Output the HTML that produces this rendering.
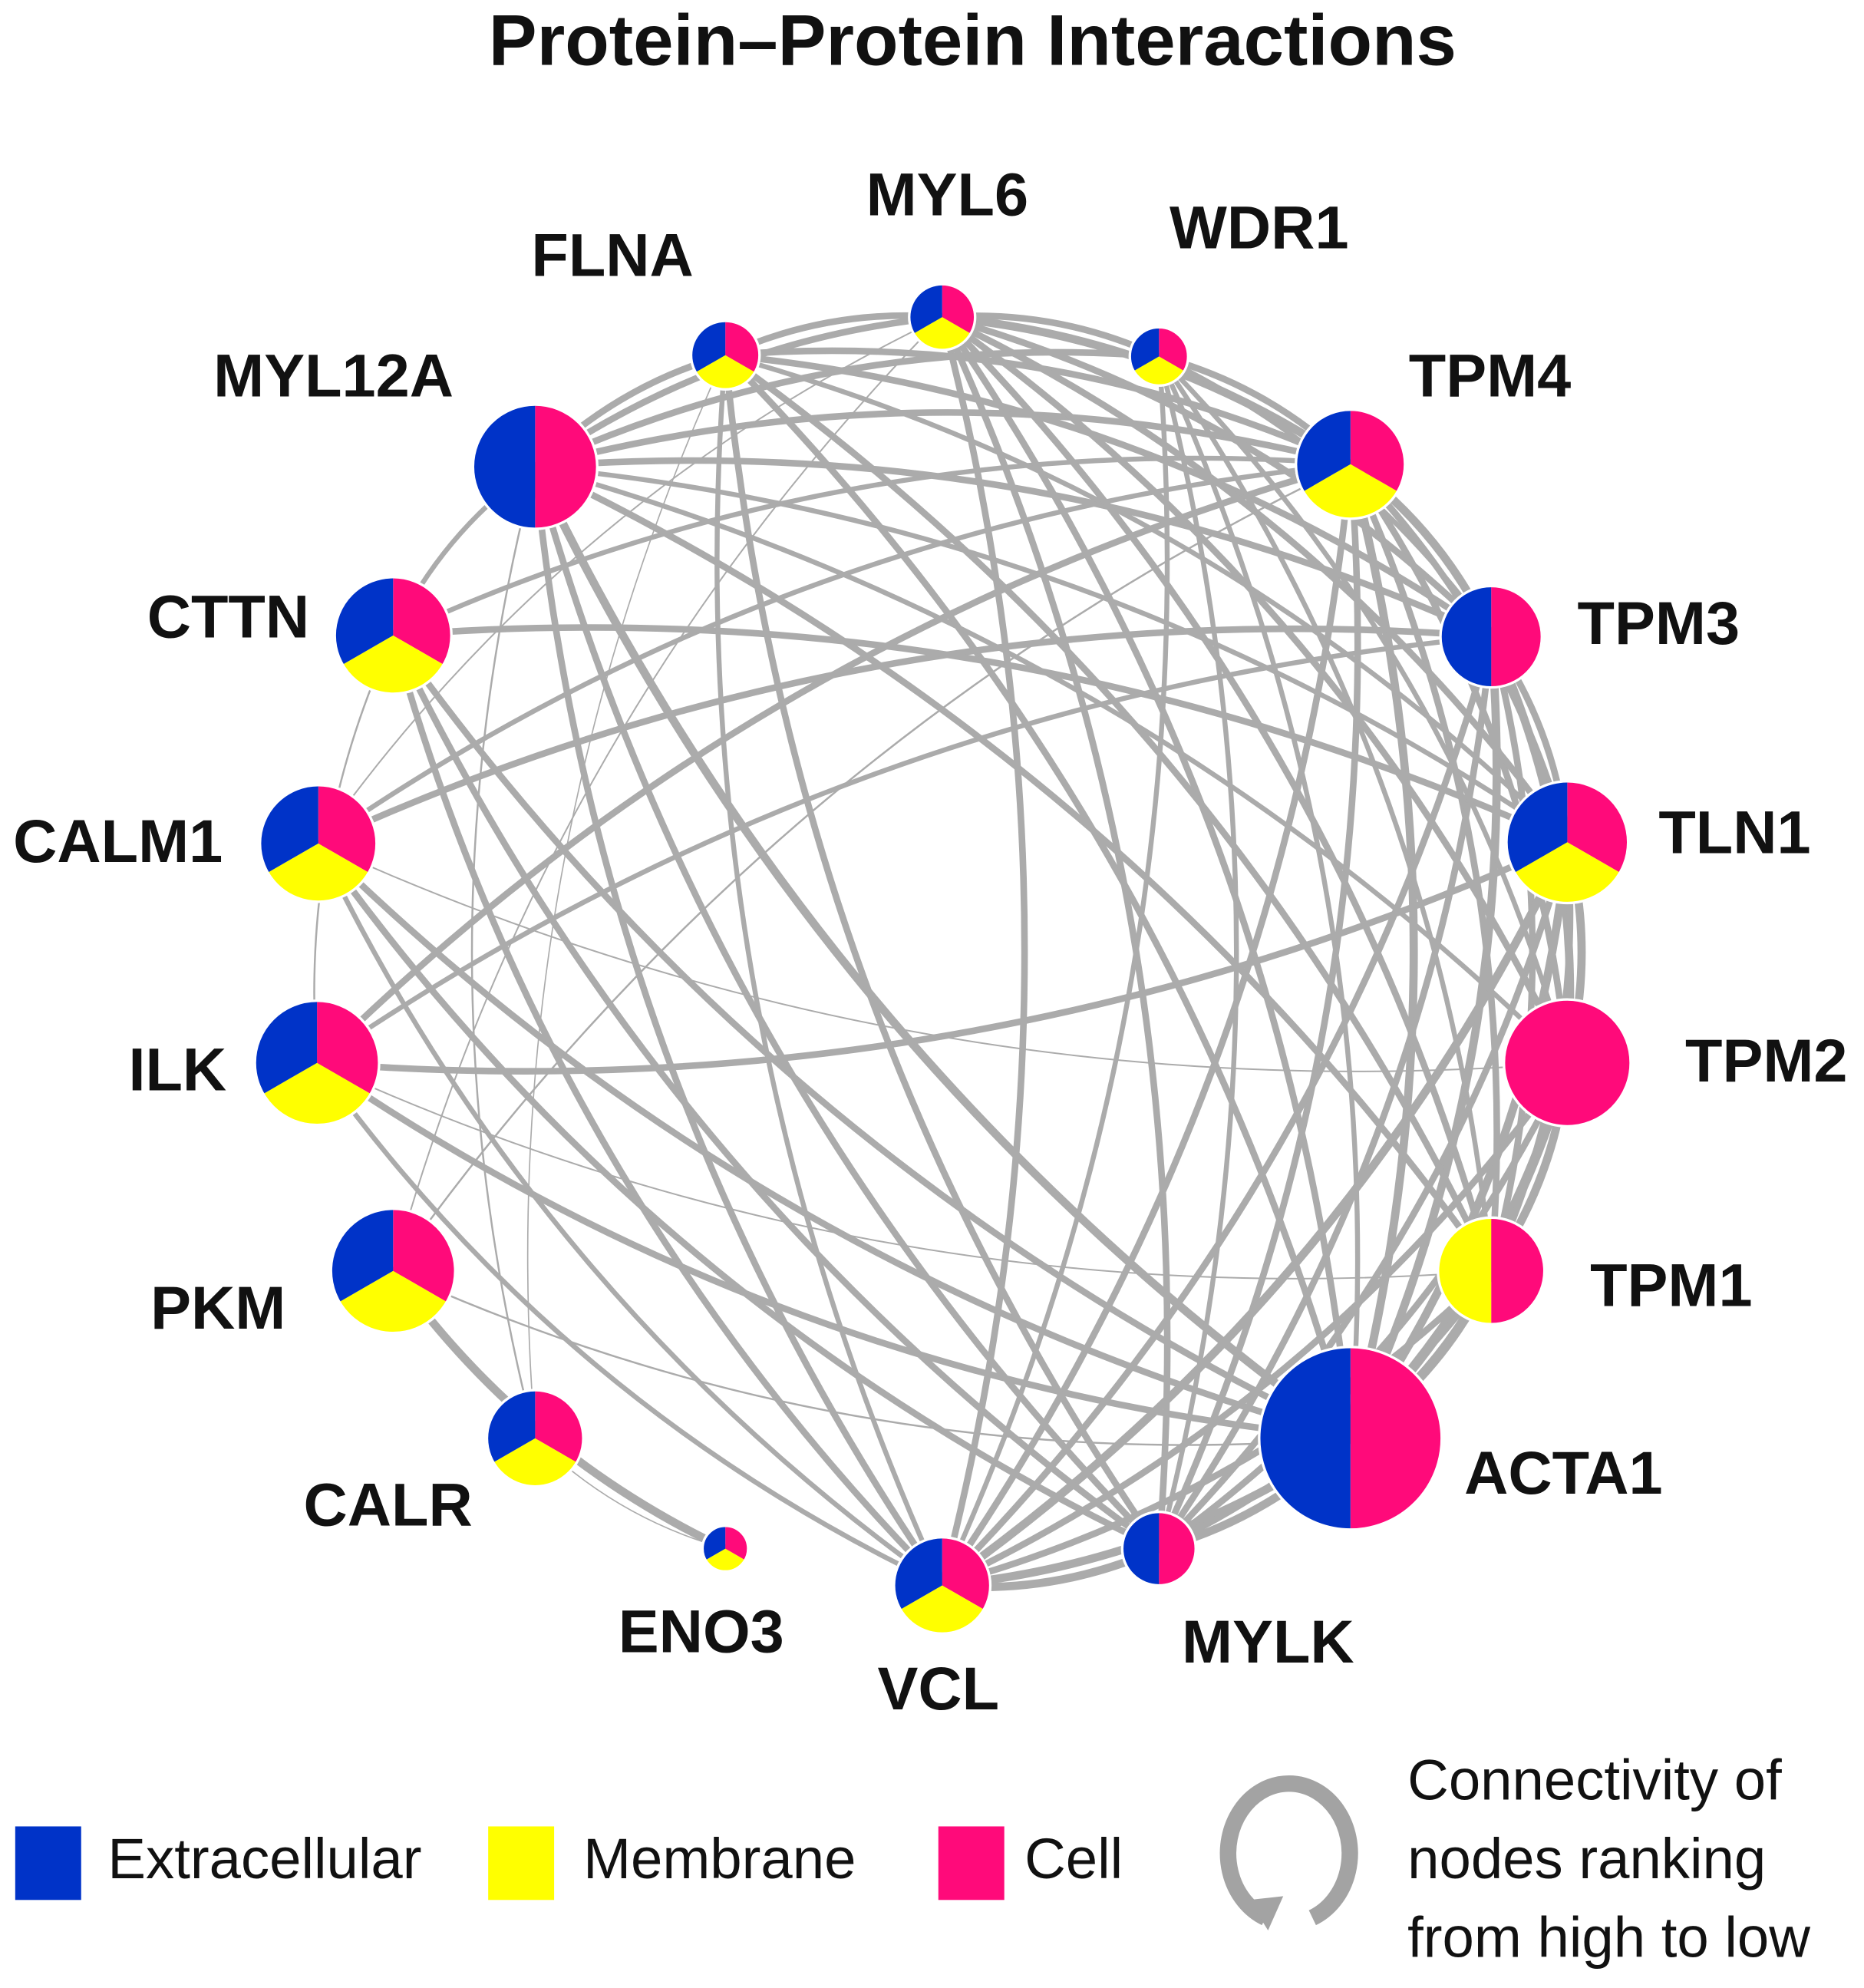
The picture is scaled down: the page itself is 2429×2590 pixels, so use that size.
<!DOCTYPE html>
<html><head><meta charset="utf-8">
<style>
html,body{margin:0;padding:0;background:#fff;}
svg{display:block;}
.lb{font-family:"Liberation Sans",sans-serif;font-weight:bold;font-size:48px;fill:#111;text-anchor:middle;dominant-baseline:middle;}
.lg{font-family:"Liberation Sans",sans-serif;font-size:45px;fill:#111;dominant-baseline:middle;}
</style></head>
<body>
<svg id="s" xmlns="http://www.w3.org/2000/svg" width="2429" height="2590" viewBox="0 0 1470 1567.4">
<rect width="1470" height="1567.4" fill="#fff"/>
<text x="767" y="36" class="lb" style="font-size:57px">Protein–Protein Interactions</text>
<g id="edges" fill="none" stroke="#ababab" stroke-linecap="round"></g>
<g id="nodes"></g>
<text x="483" y="205" class="lb">FLNA</text>
<text x="747" y="157" class="lb">MYL6</text>
<text x="993" y="183" class="lb">WDR1</text>
<text x="263" y="300" class="lb">MYL12A</text>
<text x="1175" y="300" class="lb">TPM4</text>
<text x="180" y="490" class="lb">CTTN</text>
<text x="1308" y="495" class="lb">TPM3</text>
<text x="93" y="667" class="lb">CALM1</text>
<text x="1368" y="660" class="lb">TLN1</text>
<text x="140" y="847" class="lb">ILK</text>
<text x="1393" y="840" class="lb">TPM2</text>
<text x="172" y="1035" class="lb">PKM</text>
<text x="1318" y="1017" class="lb">TPM1</text>
<text x="306" y="1190" class="lb">CALR</text>
<text x="1233" y="1165" class="lb">ACTA1</text>
<text x="553" y="1290" class="lb">ENO3</text>
<text x="740" y="1335" class="lb">VCL</text>
<text x="1000" y="1298" class="lb">MYLK</text>
<rect x="12" y="1440" width="52" height="58" fill="#0033c8"/>
<text x="85" y="1469" class="lg">Extracellular</text>
<rect x="385" y="1440" width="52" height="58" fill="#ffff00"/>
<text x="460" y="1469" class="lg">Membrane</text>
<rect x="740" y="1440" width="52" height="58" fill="#ff0a7a"/>
<text x="808" y="1469" class="lg">Cell</text>
<path d="M998,1512 A48,55 0 1 1 1035,1512" fill="none" stroke="#a3a3a3" stroke-width="13"/>
<polygon points="985,1498 1000,1522 1012,1495" fill="#a3a3a3"/>
<text x="1110" y="1407" class="lg">Connectivity of</text>
<text x="1110" y="1469" class="lg">nodes ranking</text>
<text x="1110" y="1531" class="lg">from high to low</text>
</svg>
<script>
(function(){
var N={FLNA:[572,280,27,3],MYL6:[743,250,26,3],WDR1:[914,281,23,3],MYL12A:[422,368,49,2],TPM4:[1065,366,43,3],CTTN:[310,501,46,3],TPM3:[1176,502,40,2],CALM1:[251,665,46,3],TLN1:[1236,664,48,3],ILK:[250,838,49,3],TPM2:[1236,838,50,1],PKM:[310,1002,49,3],TPM1:[1176,1002,42,4],CALR:[422,1134,38,3],ACTA1:[1065,1134,72,2],ENO3:[572,1221,18,3],VCL:[743,1250,38,3],MYLK:[914,1221,29,2]};
var E=[
"ACTA1 MYL12A 5","ACTA1 FLNA 4","ACTA1 MYL6 4","ACTA1 WDR1 3","ACTA1 TPM4 5","ACTA1 TPM3 5","ACTA1 TLN1 5","ACTA1 TPM2 6","ACTA1 TPM1 6","ACTA1 CTTN 4","ACTA1 CALM1 4","ACTA1 ILK 4","ACTA1 VCL 5","ACTA1 MYLK 5","ACTA1 PKM 1.5",
"TPM4 MYL12A 4","TPM4 FLNA 4","TPM4 MYL6 5","TPM4 WDR1 4","TPM4 TPM3 5","TPM4 TLN1 4","TPM4 TPM2 4","TPM4 TPM1 4","TPM4 VCL 4","TPM4 MYLK 4","TPM4 CALM1 3","TPM4 ILK 4","TPM4 CTTN 3","TPM4 PKM 1.5",
"TPM3 MYL12A 4","TPM3 MYL6 4","TPM3 FLNA 4","TPM3 WDR1 3","TPM3 TLN1 4","TPM3 TPM2 5","TPM3 TPM1 4","TPM3 VCL 4","TPM3 MYLK 4","TPM3 CALM1 4","TPM3 ILK 3",
"TLN1 MYL6 4","TLN1 FLNA 3","TLN1 VCL 5","TLN1 MYLK 4","TLN1 TPM2 5","TLN1 TPM1 4","TLN1 ILK 4","TLN1 CTTN 4","TLN1 MYL12A 3",
"TPM2 MYL6 4","TPM2 WDR1 3","TPM2 TPM1 5","TPM2 VCL 4","TPM2 MYLK 4","TPM2 MYL12A 3",
"TPM1 MYL6 4","TPM1 FLNA 4","TPM1 VCL 4","TPM1 MYLK 4","TPM1 MYL12A 4","TPM1 WDR1 3",
"VCL MYL12A 4","VCL FLNA 3","VCL MYL6 4","VCL CTTN 4","VCL CALM1 3","VCL ILK 3","VCL MYLK 5","VCL WDR1 3",
"MYLK MYL12A 4","MYLK FLNA 4","MYLK MYL6 4","MYLK WDR1 3","MYLK CTTN 4","MYLK CALM1 4",
"MYL12A MYL6 4","MYL12A FLNA 4","MYL12A WDR1 4","MYL12A CTTN 3","FLNA MYL6 4","MYL6 WDR1 4",
"PKM ENO3 5","CALR ENO3 1","CALR MYL12A 1.5","CTTN ILK 1.5","CALM1 TPM2 1.2","ILK TPM1 1.2","CALM1 MYL6 1.2","PKM MYL6 1.2","CALR FLNA 1"];
var cx=743,cy=745,h='';
E.forEach(function(e){var p=e.split(' '),a=N[p[0]],b=N[p[1]];
var mx=(a[0]+b[0])/2,my=(a[1]+b[1])/2,dx=b[0]-a[0],dy=b[1]-a[1],L=Math.hypot(dx,dy);
var nx=-dy/L,ny=dx/L;if((cx-mx)*nx+(cy-my)*ny>0){nx=-nx;ny=-ny;}
var k=0.13*L;var qx=mx+nx*k,qy=my+ny*k;
var w=parseFloat(p[2]);if(w>=3)w=w*1.3;
h+='<path d="M'+a[0]+','+a[1]+' Q'+qx.toFixed(1)+','+qy.toFixed(1)+' '+b[0]+','+b[1]+'" stroke-width="'+w+'"/>';});
document.getElementById('edges').innerHTML=h;
var B='#0033c8',Y='#ffff00',P='#ff0a7a',n='';
function sl(x,y,r,p1,p2,c){return '<path d="M'+x+','+y+' L'+p1[0].toFixed(2)+','+p1[1].toFixed(2)+' A'+r+','+r+' 0 0 1 '+p2[0].toFixed(2)+','+p2[1].toFixed(2)+' Z" fill="'+c+'"/>';}
for(var k in N){var v=N[k],x=v[0],y=v[1],r=v[2],t=v[3];
var pT=[x,y-r],pBR=[x+0.866*r,y+0.5*r],pBL=[x-0.866*r,y+0.5*r],pB=[x,y+r];
if(t==1){n+='<circle cx="'+x+'" cy="'+y+'" r="'+r+'" fill="'+P+'"/>';}
else if(t==2){n+=sl(x,y,r,pT,pB,P)+sl(x,y,r,pB,pT,B);}
else if(t==4){n+=sl(x,y,r,pT,pB,P)+sl(x,y,r,pB,pT,Y);}
else{n+=sl(x,y,r,pT,pBR,P)+sl(x,y,r,pBR,pBL,Y)+sl(x,y,r,pBL,pT,B);}
n+='<circle cx="'+x+'" cy="'+y+'" r="'+r+'" fill="none" stroke="#fff" stroke-width="2"/>';}
document.getElementById('nodes').innerHTML=n;
})();
</script>
</body></html>
